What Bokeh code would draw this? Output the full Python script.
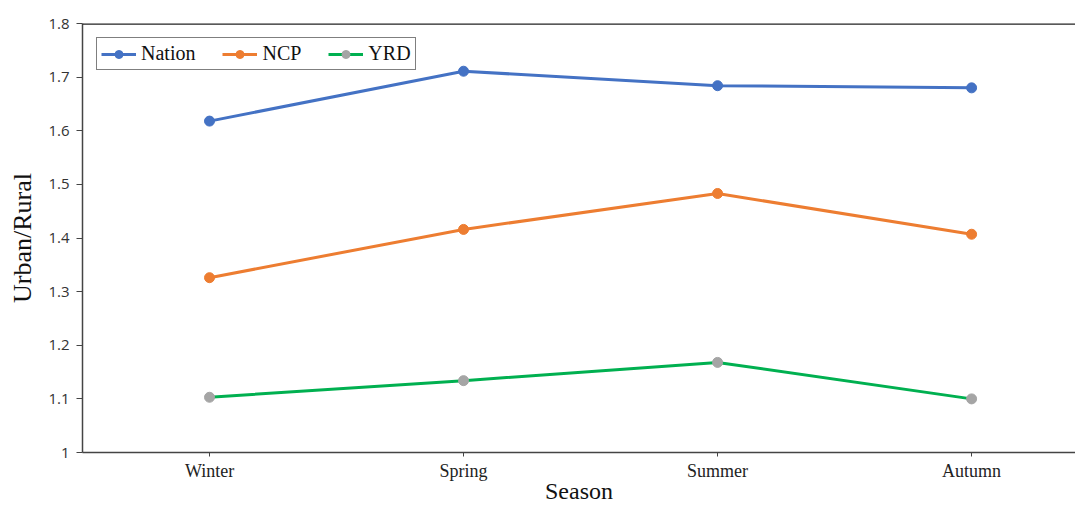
from bokeh.plotting import figure
from bokeh.models import Range1d, Span, Legend, LegendItem, FixedTicker
from bokeh.embed import file_html
from bokeh.resources import INLINE

seasons = ["Winter", "Spring", "Summer", "Autumn"]
nation = [1.618, 1.711, 1.684, 1.680]
ncp = [1.326, 1.416, 1.483, 1.407]
yrd = [1.103, 1.134, 1.168, 1.100]
y_ticks = [1.0, 1.1, 1.2, 1.3, 1.4, 1.5, 1.6, 1.7, 1.8]
y_tick_labels = ["1", "1.1", "1.2", "1.3", "1.4", "1.5", "1.6", "1.7", "1.8"]

xpos = [i + 0.5 for i in range(len(seasons))]

p = figure(width=1075, height=506, output_backend="svg", toolbar_location=None,
           x_range=Range1d(0, 3.909), y_range=Range1d(1.0, 1.8),
           min_border_left=82, min_border_right=0, min_border_top=23, min_border_bottom=54)
p.outline_line_color = None
p.grid.visible = False
p.background_fill_color = "white"
p.border_fill_color = "white"

series = [
    ("Nation", nation, "#4472C4", "#4472C4"),
    ("NCP", ncp, "#ED7D31", "#ED7D31"),
    ("YRD", yrd, "#00B050", "#A5A5A5"),
]
items = []
for name, vals, lc, mc in series:
    r1 = p.line(xpos, vals, line_color=lc, line_width=3)
    r2 = p.scatter(xpos, vals, size=10, fill_color=mc, line_color=mc)
    items.append(LegendItem(label=name, renderers=[r1, r2]))

legend = Legend(items=items, orientation="horizontal", location="top_left")
legend.margin = 14
legend.padding = 4
legend.spacing = 27
legend.glyph_width = 35
legend.label_text_font = "Liberation Serif"
legend.label_text_font_size = "20px"
legend.label_text_color = "#111111"
legend.border_line_color = "#000000"
legend.border_line_width = 1
legend.label_standoff = 5
p.add_layout(legend, "center")

p.add_layout(Span(location=1.8, dimension="width", line_color="#222222", line_width=2.5))

p.xaxis.ticker = FixedTicker(ticks=xpos)
p.xaxis.major_label_overrides = {x: s for x, s in zip(xpos, seasons)}
p.xaxis.major_label_text_font = "Liberation Serif"
p.xaxis.major_label_text_font_size = "18px"
p.xaxis.major_label_text_color = "#222222"
p.xaxis.major_tick_in = 0
p.xaxis.major_tick_out = 4
p.xaxis.minor_tick_line_color = None
p.xaxis.major_label_standoff = 4
p.xaxis.axis_label = "Season"
p.xaxis.axis_label_text_font = "Liberation Serif"
p.xaxis.axis_label_text_font_size = "24px"
p.xaxis.axis_label_text_font_style = "normal"
p.xaxis.axis_label_text_color = "#111111"
p.xaxis.axis_label_standoff = -6

p.yaxis.ticker = FixedTicker(ticks=y_ticks)
p.yaxis.major_label_overrides = {t: l for t, l in zip(y_ticks, y_tick_labels)}
p.yaxis.major_label_text_font = "Open Sans"
p.yaxis.major_label_text_font_size = "15px"
p.yaxis.major_label_text_color = "#333333"
p.yaxis.major_tick_in = 0
p.yaxis.major_tick_out = 6
p.yaxis.minor_tick_line_color = None
p.yaxis.major_label_standoff = 7
p.yaxis.axis_label = "Urban/Rural"
p.yaxis.axis_label_text_font = "Liberation Serif"
p.yaxis.axis_label_text_font_size = "26px"
p.yaxis.axis_label_text_font_style = "normal"
p.yaxis.axis_label_text_color = "#111111"
p.yaxis.axis_label_standoff = 8

for ax in (p.xaxis, p.yaxis):
    ax.axis_line_color = "#444444"
    ax.axis_line_width = 1.5
    ax.major_tick_line_color = "#444444"

open("out.html", "w").write(file_html(p, INLINE))
